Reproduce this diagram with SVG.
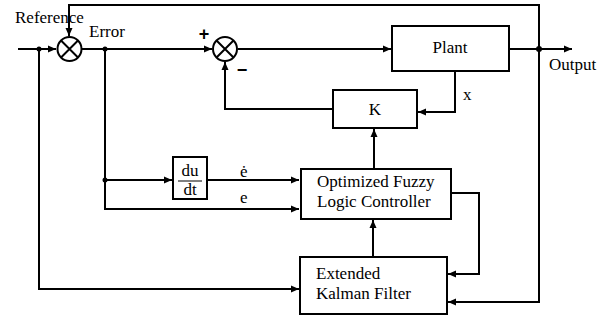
<svg xmlns="http://www.w3.org/2000/svg" width="611" height="320" viewBox="0 0 611 320">
<style>
.ln{fill:none;stroke:#000;stroke-width:2}
.box{fill:#fff;stroke:#000;stroke-width:2}
.t{font-family:"Liberation Serif","Times New Roman",serif;font-size:17px;fill:#000}
.s{font-family:"Liberation Sans",Arial,sans-serif;font-size:18px;font-weight:bold;fill:#000}
</style>
<defs>
<marker id="a" markerUnits="userSpaceOnUse" markerWidth="10" markerHeight="10" refX="9" refY="5" orient="auto">
<path d="M1,1.5 L9,5 L1,8.5 Z" fill="#000"/>
</marker>
</defs>
<rect width="611" height="320" fill="#fff"/>
<g id="connectors">
<path class="ln" d="M18,49 H56" marker-end="url(#a)"/>
<path class="ln" d="M539,49 V5 H69 V36" marker-end="url(#a)"/>
<path class="ln" d="M82,49 H212" marker-end="url(#a)"/>
<path class="ln" d="M238,49 H391" marker-end="url(#a)"/>
<path class="ln" d="M509,49 H572" marker-end="url(#a)"/>
<path class="ln" d="M455,71 V112 H418" marker-end="url(#a)"/>
<path class="ln" d="M333,109 H225 V62" marker-end="url(#a)"/>
<path class="ln" d="M374,169 V129" marker-end="url(#a)"/>
<path class="ln" d="M105,49 V209 H299" marker-end="url(#a)"/>
<path class="ln" d="M105,180 H172" marker-end="url(#a)"/>
<path class="ln" d="M207,180 H299" marker-end="url(#a)"/>
<path class="ln" d="M39,49 V289 H299" marker-end="url(#a)"/>
<path class="ln" d="M373,257 V220" marker-end="url(#a)"/>
<path class="ln" d="M451,193 H479 V274 H448" marker-end="url(#a)"/>
<path class="ln" d="M539,49 V302 H448" marker-end="url(#a)"/>
<circle cx="39" cy="49" r="2.5" fill="#000"/>
<circle cx="105" cy="49" r="2.5" fill="#000"/>
<circle cx="105" cy="180" r="2.5" fill="#000"/>
<circle cx="539" cy="49" r="3" fill="#000"/>
</g>
<g id="sum1">
<circle class="box" cx="69.5" cy="49" r="12"/>
<path class="ln" d="M61,40.5 L78,57.5 M78,40.5 L61,57.5"/>
</g>
<g id="sum2">
<circle class="box" cx="225" cy="49" r="12"/>
<path class="ln" d="M216.5,40.5 L233.5,57.5 M233.5,40.5 L216.5,57.5"/>
<text class="s" x="204" y="40" text-anchor="middle">+</text>
<text class="s" x="242" y="76" text-anchor="middle">−</text>
</g>
<g id="plant">
<rect class="box" x="392" y="26" width="117" height="45"/>
<text class="t" x="450" y="53" text-anchor="middle">Plant</text>
</g>
<g id="k">
<rect class="box" x="333" y="90" width="84" height="38"/>
<text class="t" x="375" y="115" text-anchor="middle">K</text>
</g>
<g id="dudt">
<rect class="box" x="173" y="157" width="34" height="42"/>
<text class="t" x="190" y="176" text-anchor="middle">du</text>
<line x1="178" y1="181" x2="202" y2="181" stroke="#000" stroke-width="1"/>
<text class="t" x="190" y="195" text-anchor="middle">dt</text>
</g>
<g id="fuzzy">
<rect class="box" x="301" y="169" width="150" height="50"/>
<text class="t" x="317" y="187">Optimized Fuzzy</text>
<text class="t" x="317" y="207">Logic Controller</text>
</g>
<g id="ekf">
<rect class="box" x="300" y="257" width="147" height="57"/>
<text class="t" x="316" y="279">Extended</text>
<text class="t" x="316" y="299">Kalman Filter</text>
</g>
<g id="labels">
<text class="t" x="15" y="23">Reference</text>
<text class="t" x="89" y="37">Error</text>
<text class="t" x="549" y="70">Output</text>
<text class="t" x="463" y="100">x</text>
<text class="t" x="240" y="177">ė</text>
<text class="t" x="240" y="203">e</text>
</g>
</svg>
